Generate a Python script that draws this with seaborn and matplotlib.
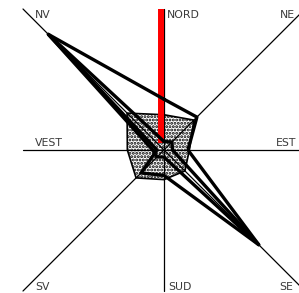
import numpy as np
import pandas as pd
import matplotlib
matplotlib.use("Agg")
import matplotlib.pyplot as plt
import seaborn as sns

# wind directions (Romanian labels) and their angle on the rose
directions = ["NORD", "NE", "EST", "SE", "SUD", "SV", "VEST", "NV"]
angles = [90, 45, 0, -45, -90, -135, 180, 135]

# frequencies (axis end = 10)
series_a = [3.6, 3.3, 1.7, 9.5, 1.8, 2.3, 0.5, 11.6]
series_b = [0.6, 0.8, 0.6, 9.5, 0.5, 0.7, 0.8, 11.6]
calm = [2.5, 3.0, 1.8, 2.1, 2.1, 2.8, 2.6, 3.7]
north_bar = [0.5, 10.0]

sns.set_style("white")
plt.rcParams["font.family"] = ["DejaVu Sans"]
plt.rcParams["hatch.linewidth"] = 1.4

rad = np.deg2rad(angles)


def to_xy(vals):
    v = np.array(vals + vals[:1])
    a = np.append(rad, rad[0])
    return v * np.cos(a), v * np.sin(a)


fig = plt.figure(figsize=(2.99, 2.93), dpi=100)
ax = fig.add_axes([0, 0, 1, 1])
scale = 14.1  # px per unit
ax.set_xlim(-164 / scale, (299 - 164) / scale)
ax.set_ylim(-(293 - 150) / scale, 150 / scale)
ax.set_axis_off()

# dotted polygon
cx, cy = to_xy(calm)
ax.fill(cx, cy, facecolor="white", edgecolor="black", hatch=".....", lw=1.2, zorder=1)

# spokes out to the square frame
for a in rad:
    L = 10 / max(abs(np.cos(a)), abs(np.sin(a)))
    ax.plot([0, L * np.cos(a)], [0, L * np.sin(a)], color="black", lw=0.9, zorder=2)

# red bar on the north spoke
off = matplotlib.transforms.offset_copy(ax.transData, fig=fig, x=-3.5, y=0, units="dots")
ax.plot([0, 0], north_bar, color="#ff0000", lw=4.3, solid_capstyle="butt",
        transform=off, zorder=3)

rows = []
for name, vals in [("a", series_a), ("b", series_b)]:
    x, y = to_xy(vals)
    for i, (xx, yy) in enumerate(zip(x, y)):
        rows.append({"series": name, "order": i, "x": xx, "y": yy})
df = pd.DataFrame(rows)
sns.lineplot(data=df, x="x", y="y", units="series", estimator=None, sort=False,
             color="black", lw=2.4, ax=ax, zorder=4)

# labels (pixel positions)
labels = {
    "NORD": (167, 15, "left"), "NE": (295, 15, "right"), "EST": (296, 143, "right"),
    "SE": (293, 287, "right"), "SUD": (168, 287, "left"), "SV": (35, 287, "left"),
    "VEST": (35, 143, "left"), "NV": (35, 15, "left"),
}
for d in directions:
    px, py, ha = labels[d]
    fig.text(px / 299, 1 - py / 293, d, ha=ha, va="center", fontsize=7.8, color="#3a3a3a")

fig.savefig("out.png", dpi=100)
